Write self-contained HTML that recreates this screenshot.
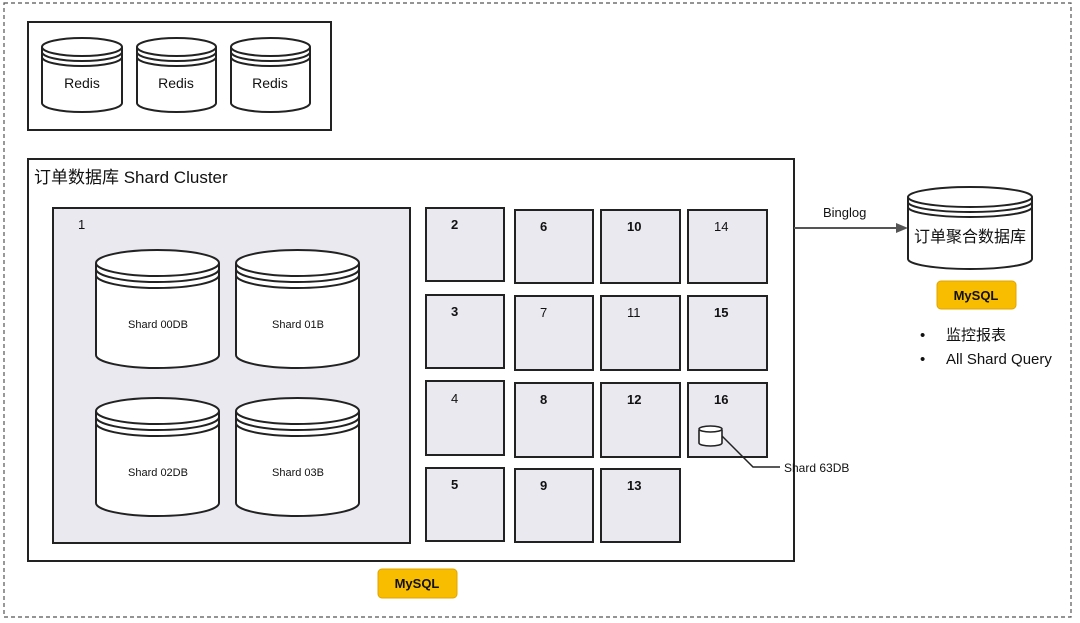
<!DOCTYPE html>
<html><head><meta charset="utf-8"><style>
html,body{margin:0;padding:0;background:#fff;}
svg{display:block;}
text{font-family:"Liberation Sans","Noto Sans CJK SC",sans-serif;fill:#111;}
</style></head><body>
<svg width="1080" height="623" viewBox="0 0 1080 623" xmlns="http://www.w3.org/2000/svg">
<rect x="4" y="3" width="1067" height="614" fill="none" stroke="#555" stroke-width="1.2" stroke-dasharray="4,3"/>
<!-- Redis box -->
<rect x="28" y="22" width="303" height="108" fill="#fff" stroke="#222" stroke-width="2"/>
<g fill="#fff" stroke="#222" stroke-width="2">
 <path d="M42,47 V103 A40,9 0 0 0 122,103 V47"/><ellipse cx="82" cy="47" rx="40" ry="9"/>
 <path d="M42,52 A40,9 0 0 0 122,52 M42,57 A40,9 0 0 0 122,57" fill="none"/>
 <path d="M137,47 V103 A39.5,9 0 0 0 216,103 V47"/><ellipse cx="176.5" cy="47" rx="39.5" ry="9"/>
 <path d="M137,52 A39.5,9 0 0 0 216,52 M137,57 A39.5,9 0 0 0 216,57" fill="none"/>
 <path d="M231,47 V103 A39.5,9 0 0 0 310,103 V47"/><ellipse cx="270.5" cy="47" rx="39.5" ry="9"/>
 <path d="M231,52 A39.5,9 0 0 0 310,52 M231,57 A39.5,9 0 0 0 310,57" fill="none"/>
</g>
<g font-size="14" text-anchor="middle"><text x="82" y="88">Redis</text><text x="176" y="88">Redis</text><text x="270" y="88">Redis</text></g>
<!-- Cluster -->
<rect x="28" y="159" width="766" height="402" fill="#fff" stroke="#222" stroke-width="2"/>
<text x="34" y="183" font-size="17">订单数据库 Shard Cluster</text>
<rect x="53" y="208" width="357" height="335" fill="#ebe9f0" stroke="#222" stroke-width="2"/>
<text x="78" y="229" font-size="13">1</text>
<g fill="#fff" stroke="#222" stroke-width="2">
 <path d="M96,263 V355 A61.5,13 0 0 0 219,355 V263"/><ellipse cx="157.5" cy="263" rx="61.5" ry="13"/>
 <path d="M96,269 A61.5,13 0 0 0 219,269 M96,275 A61.5,13 0 0 0 219,275" fill="none"/>
 <path d="M236,263 V355 A61.5,13 0 0 0 359,355 V263"/><ellipse cx="297.5" cy="263" rx="61.5" ry="13"/>
 <path d="M236,269 A61.5,13 0 0 0 359,269 M236,275 A61.5,13 0 0 0 359,275" fill="none"/>
 <path d="M96,411 V503 A61.5,13 0 0 0 219,503 V411"/><ellipse cx="157.5" cy="411" rx="61.5" ry="13"/>
 <path d="M96,417 A61.5,13 0 0 0 219,417 M96,423 A61.5,13 0 0 0 219,423" fill="none"/>
 <path d="M236,411 V503 A61.5,13 0 0 0 359,503 V411"/><ellipse cx="297.5" cy="411" rx="61.5" ry="13"/>
 <path d="M236,417 A61.5,13 0 0 0 359,417 M236,423 A61.5,13 0 0 0 359,423" fill="none"/>
</g>
<g font-size="11" text-anchor="middle"><text x="158" y="328">Shard 00DB</text><text x="298" y="328">Shard 01B</text><text x="158" y="476">Shard 02DB</text><text x="298" y="476">Shard 03B</text></g>
<!-- grid -->
<g fill="#ebe9f0" stroke="#222" stroke-width="2">
 <rect x="426" y="208" width="78" height="73"/><rect x="426" y="295" width="78" height="73"/><rect x="426" y="381" width="78" height="74"/><rect x="426" y="468" width="78" height="73"/>
 <rect x="515" y="210" width="78" height="73"/><rect x="515" y="296" width="78" height="74"/><rect x="515" y="383" width="78" height="74"/><rect x="515" y="469" width="78" height="73"/>
 <rect x="601" y="210" width="79" height="73"/><rect x="601" y="296" width="79" height="74"/><rect x="601" y="383" width="79" height="74"/><rect x="601" y="469" width="79" height="73"/>
 <rect x="688" y="210" width="79" height="73"/><rect x="688" y="296" width="79" height="74"/><rect x="688" y="383" width="79" height="74"/>
</g>
<g font-size="13" font-weight="bold">
 <text x="451" y="229">2</text><text x="451" y="316">3</text><text x="451" y="403" font-weight="normal" fill="#555">4</text><text x="451" y="489">5</text>
 <text x="540" y="231">6</text><text x="540" y="317" font-weight="normal" fill="#555">7</text><text x="540" y="404">8</text><text x="540" y="490">9</text>
 <text x="627" y="231">10</text><text x="627" y="317" font-weight="normal" fill="#555">11</text><text x="627" y="404">12</text><text x="627" y="490">13</text>
 <text x="714" y="231" font-weight="normal" fill="#555">14</text><text x="714" y="317">15</text><text x="714" y="404">16</text>
</g>
<g fill="#fff" stroke="#222" stroke-width="1.6">
 <path d="M699,430 V443 A11.5,3 0 0 0 722,443 V430"/><ellipse cx="710.5" cy="429" rx="11.5" ry="3"/>
</g>
<path d="M722,436 L753,467 H780" fill="none" stroke="#222" stroke-width="1.5"/>
<text x="784" y="472" font-size="12">Shard 63DB</text>
<!-- arrow -->
<line x1="794" y1="228" x2="898" y2="228" stroke="#555" stroke-width="2"/>
<polygon points="896,223 908,228 896,233" fill="#555"/>
<text x="823" y="217" font-size="13">Binglog</text>
<!-- aggregate DB -->
<g fill="#fff" stroke="#222" stroke-width="2">
 <path d="M908,197 V259 A62,10 0 0 0 1032,259 V197"/><ellipse cx="970" cy="197" rx="62" ry="10"/>
 <path d="M908,202 A62,10 0 0 0 1032,202 M908,207 A62,10 0 0 0 1032,207" fill="none"/>
</g>
<text x="970" y="242" font-size="16" text-anchor="middle">订单聚合数据库</text>
<rect x="937" y="281" width="79" height="28" rx="4" fill="#f9bd00" stroke="#e0a400"/>
<text x="976" y="300" font-size="13" font-weight="bold" text-anchor="middle">MySQL</text>
<g font-size="15"><text x="920" y="340">•</text><text x="946" y="340">监控报表</text><text x="920" y="364">•</text><text x="946" y="364">All Shard Query</text></g>
<rect x="378" y="569" width="79" height="29" rx="4" fill="#f9bd00" stroke="#e0a400"/>
<text x="417" y="588" font-size="13" font-weight="bold" text-anchor="middle">MySQL</text>
</svg>
</body></html>
